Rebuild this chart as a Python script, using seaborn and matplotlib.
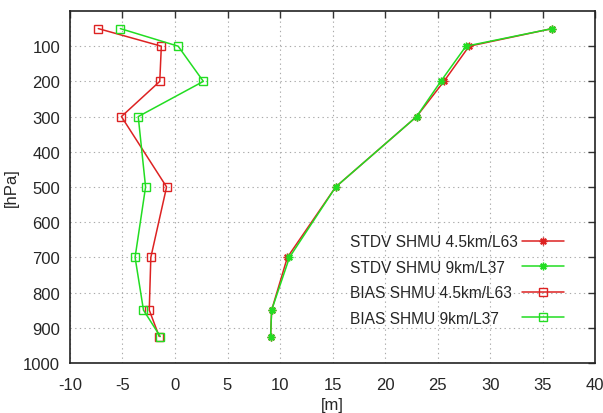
import pandas as pd
import matplotlib
matplotlib.use("Agg")
import matplotlib.pyplot as plt
import seaborn as sns

# pressure levels [hPa]
levels = [50, 100, 200, 300, 500, 700, 850, 925]

stdv_45 = [35.9, 28.0, 25.6, 23.0, 15.3, 10.7, 9.2, 9.1]
stdv_9 = [35.9, 27.7, 25.3, 23.0, 15.3, 10.9, 9.2, 9.1]
bias_45 = [-7.3, -1.3, -1.45, -5.1, -0.8, -2.3, -2.45, -1.5]
bias_9 = [-5.2, 0.3, 2.7, -3.5, -2.8, -3.8, -3.0, -1.4]

labels = ["STDV SHMU 4.5km/L63", "STDV SHMU 9km/L37",
          "BIAS SHMU 4.5km/L63", "BIAS SHMU 9km/L37"]

sns.set_theme(style="white")
plt.rcParams['font.family'] = ['Liberation Sans', 'DejaVu Sans']
plt.rcParams['axes.unicode_minus'] = False

red = "#dd2222"
green = "#22dd22"
series = [
    (stdv_45, labels[0], red, (8, 2, 0), 5.5),
    (stdv_9, labels[1], green, (8, 2, 0), 5.5),
    (bias_45, labels[2], red, "s", 5.8),
    (bias_9, labels[3], green, "s", 5.8),
]

fig = plt.figure(figsize=(6.03, 4.14), dpi=100)
ax = fig.add_axes([0.116, 0.121, 0.871, 0.850])

for vals, lab, col, mk, ms in series:
    df = pd.DataFrame({"m": vals, "hPa": levels})
    sns.lineplot(data=df, x="m", y="hPa", sort=False, orient="y", ax=ax,
                 color=col, marker=mk, markersize=ms, markerfacecolor="none",
                 markeredgecolor=col, markeredgewidth=1.0, linewidth=1.1,
                 label=lab)

ax.set_xlim(-10, 40)
ax.set_ylim(1000, 0)
ax.set_xticks(range(-10, 41, 5))
ax.set_yticks(range(100, 1001, 100))
ax.grid(True, color="#aaaaaa", linestyle=(0, (1.2, 3)), linewidth=0.8)
ax.tick_params(direction="in", top=True, right=True, labelsize=12,
               length=5, width=1, color="#333333")
ax.tick_params(axis="x", pad=10)
ax.tick_params(axis="y", pad=7)
for s in ax.spines.values():
    s.set_color("#222222")
    s.set_linewidth(1.2)
ax.set_xlabel("[m]", fontsize=12, labelpad=4)
ax.set_ylabel("[hPa]", fontsize=12, labelpad=3)

leg = ax.legend(loc="upper left", bbox_to_anchor=(0.533, 0.366), frameon=False,
                markerfirst=False, fontsize=11.2, labelspacing=0.68,
                handlelength=2.7, handletextpad=0.5, borderpad=0,
                borderaxespad=0)
# left-align the labels and push the line samples to a common right edge
col_box = leg._legend_handle_box.get_children()[0]
col_box.align = "left"
col_box.width = 214
for row in col_box.get_children():
    row.mode = "expand"

fig.savefig("out.png", dpi=100)
